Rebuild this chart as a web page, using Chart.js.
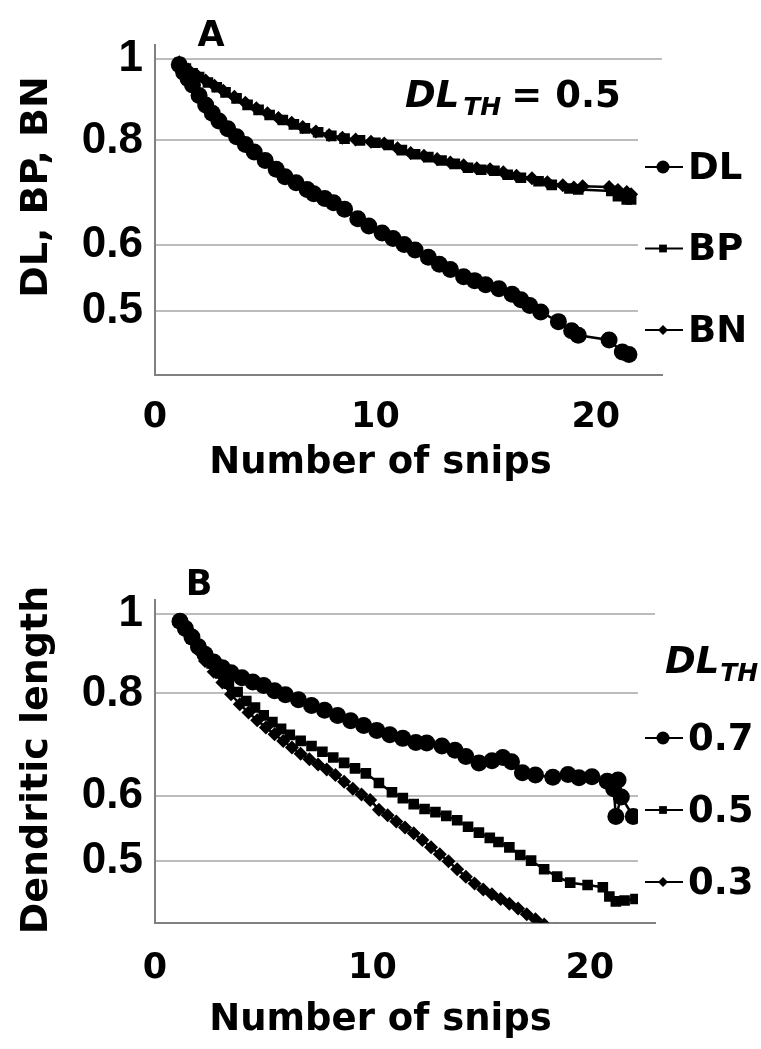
<!DOCTYPE html>
<html>
<head>
<meta charset="utf-8">
<script src="https://cdn.jsdelivr.net/npm/chart.js@4.4.1/dist/chart.umd.min.js"></script>
<style>
html, body { margin: 0; padding: 0; background: #fff; }
#wrapA { position: absolute; left: 0; top: 0; width: 761px; height: 520px; }
#wrapB { position: absolute; left: 0; top: 520px; width: 761px; height: 529px; }
</style>
</head>
<body>
<div id="wrapA"><canvas id="chartA" width="761" height="520"></canvas></div>
<div id="wrapB"><canvas id="chartB" width="761" height="529"></canvas></div>
<script>
// ticks shared by both panels
var xTicks = [0, 10, 20];
var yTicks = [0.5, 0.6, 0.8, 1];

// panel A (DL_TH = 0.5): dendritic length, branch points, branch number
var snipsDL = [1.1, 1.3, 1.5, 1.7, 2.0, 2.3, 2.6, 2.9, 3.3, 3.7, 4.1, 4.5, 5.0, 5.5, 5.9, 6.4, 6.9, 7.2, 7.7, 8.1, 8.6, 9.2, 9.7, 10.3, 10.8, 11.3, 11.8, 12.4, 12.9, 13.4, 14.0, 14.5, 15.0, 15.6, 16.2, 16.6, 17.0, 17.5, 18.3, 18.9, 19.2, 20.6, 21.2, 21.5];
var valuesDL = [0.985, 0.965, 0.948, 0.932, 0.905, 0.882, 0.862, 0.844, 0.826, 0.808, 0.791, 0.775, 0.757, 0.739, 0.724, 0.712, 0.699, 0.691, 0.682, 0.674, 0.662, 0.645, 0.632, 0.620, 0.611, 0.601, 0.592, 0.580, 0.569, 0.561, 0.550, 0.544, 0.538, 0.532, 0.524, 0.516, 0.508, 0.499, 0.486, 0.474, 0.468, 0.462, 0.447, 0.444];

var snipsBP = [1.1, 1.4, 1.7, 2.0, 2.4, 2.8, 3.2, 3.7, 4.2, 4.7, 5.2, 5.8, 6.3, 6.8, 7.4, 8.0, 8.6, 9.3, 10.0, 10.6, 11.2, 11.8, 12.4, 13.0, 13.6, 14.2, 14.8, 15.4, 16.0, 16.6, 17.4, 18.0, 18.8, 19.2, 20.7, 21.0, 21.4, 21.6];
var valuesBP = [0.990, 0.975, 0.962, 0.952, 0.938, 0.926, 0.913, 0.898, 0.882, 0.870, 0.858, 0.846, 0.836, 0.827, 0.818, 0.810, 0.804, 0.800, 0.795, 0.790, 0.779, 0.770, 0.764, 0.757, 0.750, 0.742, 0.738, 0.736, 0.728, 0.722, 0.715, 0.708, 0.701, 0.699, 0.696, 0.686, 0.680, 0.680];

var snipsBN = [1.1, 1.5, 1.9, 2.3, 2.7, 3.1, 3.6, 4.1, 4.6, 5.1, 5.6, 6.2, 6.7, 7.3, 7.9, 8.5, 9.1, 9.8, 10.4, 11.0, 11.6, 12.2, 12.8, 13.4, 14.0, 14.6, 15.2, 15.8, 16.4, 17.1, 17.8, 18.5, 19.0, 19.4, 20.6, 21.0, 21.4, 21.6];
var valuesBN = [0.992, 0.972, 0.957, 0.943, 0.930, 0.917, 0.902, 0.887, 0.874, 0.862, 0.851, 0.840, 0.830, 0.820, 0.812, 0.806, 0.802, 0.797, 0.793, 0.783, 0.773, 0.767, 0.760, 0.753, 0.747, 0.741, 0.739, 0.733, 0.726, 0.721, 0.713, 0.707, 0.703, 0.705, 0.704, 0.698, 0.694, 0.690];

// panel B: dendritic length for three thresholds
var snips07 = [1.15, 1.4, 1.7, 2.0, 2.3, 2.7, 3.1, 3.5, 4.0, 4.5, 5.0, 5.5, 6.0, 6.6, 7.2, 7.8, 8.4, 9.0, 9.6, 10.2, 10.8, 11.4, 12.0, 12.5, 13.2, 13.8, 14.3, 14.9, 15.5, 16.0, 16.4, 16.9, 17.5, 18.3, 19.0, 19.5, 20.1, 20.8, 21.3, 21.1, 21.2, 21.45, 22.0];
var values07 = [0.980, 0.960, 0.937, 0.912, 0.893, 0.874, 0.860, 0.848, 0.836, 0.826, 0.818, 0.806, 0.797, 0.786, 0.773, 0.763, 0.752, 0.741, 0.731, 0.721, 0.712, 0.705, 0.697, 0.696, 0.690, 0.682, 0.670, 0.658, 0.662, 0.668, 0.660, 0.640, 0.636, 0.632, 0.637, 0.631, 0.633, 0.625, 0.627, 0.612, 0.566, 0.598, 0.566];

var snips05 = [1.15, 1.4, 1.7, 2.0, 2.3, 2.6, 3.0, 3.4, 3.8, 4.2, 4.6, 5.0, 5.4, 5.8, 6.2, 6.7, 7.2, 7.7, 8.2, 8.7, 9.2, 9.7, 10.3, 10.9, 11.4, 11.9, 12.4, 12.9, 13.4, 13.9, 14.4, 14.9, 15.4, 15.8, 16.3, 16.8, 17.3, 17.9, 18.5, 19.1, 19.9, 20.6, 20.9, 21.2, 21.6, 22.1];
var values05 = [0.978, 0.958, 0.935, 0.910, 0.889, 0.870, 0.846, 0.822, 0.803, 0.783, 0.769, 0.752, 0.738, 0.724, 0.712, 0.700, 0.690, 0.679, 0.668, 0.658, 0.648, 0.639, 0.622, 0.606, 0.596, 0.586, 0.578, 0.573, 0.567, 0.560, 0.550, 0.541, 0.533, 0.527, 0.519, 0.508, 0.500, 0.488, 0.478, 0.470, 0.467, 0.464, 0.452, 0.446, 0.447, 0.449];

var snips03 = [1.15, 1.4, 1.7, 2.0, 2.3, 2.7, 3.1, 3.5, 3.9, 4.3, 4.7, 5.1, 5.5, 5.9, 6.3, 6.7, 7.1, 7.5, 7.9, 8.3, 8.7, 9.1, 9.5, 9.9, 10.3, 10.7, 11.1, 11.5, 11.9, 12.3, 12.7, 13.1, 13.5, 13.9, 14.3, 14.7, 15.1, 15.5, 15.9, 16.3, 16.7, 17.1, 17.5, 17.9, 18.4];
var values03 = [0.975, 0.955, 0.930, 0.902, 0.876, 0.850, 0.825, 0.798, 0.776, 0.758, 0.742, 0.727, 0.713, 0.700, 0.687, 0.675, 0.665, 0.655, 0.646, 0.636, 0.624, 0.612, 0.602, 0.593, 0.577, 0.568, 0.558, 0.549, 0.540, 0.530, 0.519, 0.509, 0.499, 0.488, 0.478, 0.469, 0.461, 0.455, 0.449, 0.443, 0.437, 0.430, 0.424, 0.418, 0.412];

function points(xs, ys) {
    return xs.map(function (x, i) { return {x: x, y: ys[i]}; });
}

function series(label, xs, ys, style, radius) {
    return {
        label: label,
        data: points(xs, ys),
        pointStyle: style,
        pointRadius: radius,
        pointBorderWidth: 0,
        backgroundColor: '#000',
        borderColor: '#000',
        borderWidth: 2.5,
        tension: 0,
        fill: false
    };
}

// letters, y title, legend and the DL_TH note
var panelDecor = {
    id: 'panelDecor',
    afterDatasetsDraw: function (chart, args, opts) {
        var ctx = chart.ctx;
        var area = chart.chartArea;
        ctx.save();
        // white box behind the legend hides the grid lines
        ctx.fillStyle = '#fff';
        ctx.fillRect(opts.coverX, opts.coverTop, chart.width - opts.coverX, area.bottom - 2 - opts.coverTop);

        chart.data.datasets.forEach(function (ds, i) {
            var x = opts.legendX;
            var y = opts.legendTop + i * opts.legendStep;
            ctx.strokeStyle = '#000';
            ctx.lineWidth = 2;
            ctx.beginPath();
            ctx.moveTo(x - 18, y);
            ctx.lineTo(x + 20, y);
            ctx.stroke();
            ctx.fillStyle = '#000';
            Chart.helpers.drawPoint(ctx, {pointStyle: ds.pointStyle, radius: ds.pointRadius - 2, rotation: 0, borderWidth: 0}, x, y);
            ctx.font = 'bold 37px "DejaVu Sans"';
            ctx.textAlign = 'left';
            ctx.textBaseline = 'middle';
            ctx.fillText(ds.label, x + 25, y + 2);
        });

        // DL with subscript TH
        var nx = opts.noteX, ny = opts.noteY;
        ctx.textBaseline = 'alphabetic';
        ctx.font = 'italic bold 37px "DejaVu Sans"';
        ctx.fillText('DL', nx, ny);
        nx += ctx.measureText('DL').width + opts.noteGap;
        ctx.font = 'italic bold 25px "DejaVu Sans"';
        ctx.fillText('TH', nx, ny + 8);
        nx += ctx.measureText('TH').width + 10;
        if (opts.noteValue) {
            ctx.font = 'bold 37px "DejaVu Sans"';
            ctx.fillText(opts.noteValue, nx, ny);
        }
        ctx.restore();
    },
    afterDraw: function (chart, args, opts) {
        var ctx = chart.ctx;
        ctx.save();
        ctx.fillStyle = '#000';
        ctx.font = 'bold 35px "DejaVu Sans"';
        ctx.textAlign = 'center';
        ctx.textBaseline = 'alphabetic';
        ctx.fillText(opts.letter, opts.letterX, opts.letterY);

        ctx.translate(opts.yTitleX, opts.yTitleY);
        ctx.rotate(-Math.PI / 2);
        ctx.font = 'bold 38px "DejaVu Sans"';
        ctx.textBaseline = 'middle';
        ctx.fillText(opts.yTitle, 0, 0);
        ctx.restore();
    }
};

// an empty right-hand axis reserves the legend column, so the bottom title
// stays centred on the whole figure
function panelOptions(p) {
    return {
        responsive: false,
        animation: false,
        devicePixelRatio: 1,
        layout: {padding: {top: p.top, right: 0, bottom: 0, left: 0}},
        plugins: {
            legend: {display: false},
            tooltip: {enabled: false},
            title: {
                display: true,
                position: 'bottom',
                text: 'Number of snips',
                color: '#000',
                font: {family: '"DejaVu Sans"', size: 37, weight: 'bold'},
                padding: {top: 0, bottom: p.titleBottom}
            },
            panelDecor: p.decor
        },
        scales: {
            x: {
                type: 'linear',
                min: 0,
                max: 23,
                afterBuildTicks: function (s) { s.ticks = xTicks.map(function (v) { return {value: v}; }); },
                afterFit: function (s) { s.height = p.xHeight; },
                grid: {display: false, drawTicks: false},
                border: {display: true, color: '#808080', width: 2},
                ticks: {
                    color: '#000',
                    padding: p.xPad,
                    maxRotation: 0,
                    autoSkip: false,
                    font: {family: '"DejaVu Sans"', size: 35, weight: 'bold'}
                }
            },
            y: {
                type: 'logarithmic',
                min: 0.42,
                max: 1.04,
                afterBuildTicks: function (s) { s.ticks = yTicks.map(function (v) { return {value: v}; }); },
                afterFit: function (s) { s.width = 155; },
                grid: {color: '#bcbcbc', lineWidth: 2, drawTicks: false},
                border: {display: true, color: '#808080', width: 2},
                ticks: {
                    color: '#000',
                    padding: 12,
                    autoSkip: false,
                    font: {family: '"Liberation Sans", Arial, sans-serif', size: 44, weight: 'bold'},
                    callback: function (v) { return String(v); }
                }
            },
            side: {
                type: 'linear',
                position: 'right',
                afterFit: function (s) { s.width = p.right; },
                grid: {display: false, drawTicks: false},
                border: {display: false},
                ticks: {display: false}
            }
        }
    };
}

var chartA = new Chart(document.getElementById('chartA'), {
    type: 'line',
    data: {
        datasets: [
            series('DL', snipsDL, valuesDL, 'circle', 8.5),
            series('BP', snipsBP, valuesBP, 'rect', 7.5),
            series('BN', snipsBN, valuesBN, 'rectRot', 7)
        ]
    },
    options: panelOptions({
        top: 45, right: 99, xHeight: 66.5, xPad: 22, titleBottom: 34.4,
        decor: {
            letter: 'A', letterX: 211, letterY: 46,
            yTitle: 'DL, BP, BN', yTitleX: 37, yTitleY: 187,
            coverX: 638, coverTop: 100,
            legendX: 663, legendTop: 167, legendStep: 81.5,
            noteX: 405, noteY: 107, noteGap: 4, noteValue: '= 0.5'
        }
    }),
    plugins: [panelDecor]
});

var chartB = new Chart(document.getElementById('chartB'), {
    type: 'line',
    data: {
        datasets: [
            series('0.7', snips07, values07, 'circle', 8.5),
            series('0.5', snips05, values05, 'rect', 7.5),
            series('0.3', snips03, values03, 'rectRot', 7)
        ]
    },
    options: panelOptions({
        top: 80, right: 106, xHeight: 75.5, xPad: 25, titleBottom: 6.4,
        decor: {
            letter: 'B', letterX: 199, letterY: 75,
            yTitle: 'Dendritic length', yTitleX: 37, yTitleY: 240,
            coverX: 638, coverTop: 100,
            legendX: 663, legendTop: 218, legendStep: 72,
            noteX: 665, noteY: 153, noteGap: 1, noteValue: ''
        }
    }),
    plugins: [panelDecor]
});
</script>
</body>
</html>
